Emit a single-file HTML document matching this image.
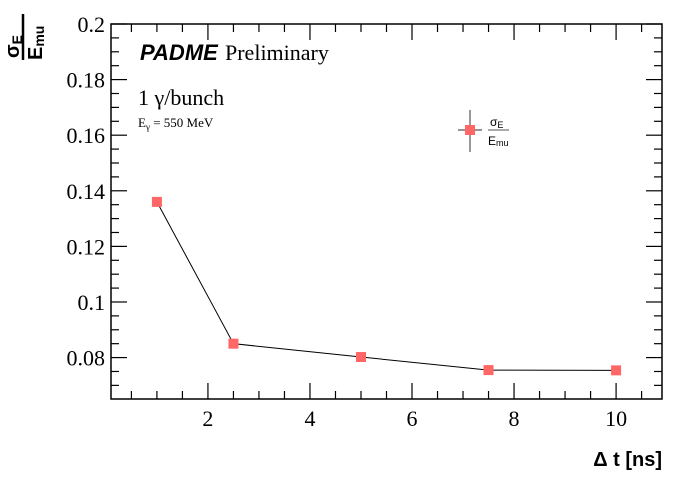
<!DOCTYPE html>
<html><head><meta charset="utf-8"><style>
body{margin:0;background:#fff}
svg text{font-family:"Liberation Serif",serif}
</style></head><body>
<svg id="c" width="698" height="476" xmlns="http://www.w3.org/2000/svg">
<rect width="698" height="476" fill="#fff"/>
<g id="axes"></g>
<g id="series"></g>
<text x="140" y="60" font-weight="bold" font-style="italic" font-size="22" style="font-family:'Liberation Sans',sans-serif">PADME</text>
<text x="225" y="60" font-size="22">Preliminary</text>
<text x="138" y="105" font-size="22">1 γ/bunch</text>
<text x="138" y="127" font-size="13">E<tspan font-size="9" dy="3">γ</tspan><tspan dy="-3"> = 550 MeV</tspan></text>
<g>
<line x1="470" y1="110" x2="470" y2="152" stroke="#555" stroke-width="1.2"/>
<line x1="458" y1="130" x2="482" y2="130" stroke="#555" stroke-width="1.2"/>
<rect x="465" y="125" width="10" height="10" fill="#f66"/>
<text x="490" y="126" font-size="12" style="font-family:'Liberation Sans',sans-serif">σ<tspan font-size="9" dy="2">E</tspan></text>
<line x1="488" y1="130" x2="509" y2="130" stroke="#555" stroke-width="1"/>
<text x="488" y="145" font-size="12" style="font-family:'Liberation Sans',sans-serif">E<tspan font-size="9" dy="1">mu</tspan></text>
</g>
<g transform="translate(23,60) rotate(-90)">
<text x="2" y="-4" font-size="20" font-weight="bold" style="font-family:'Liberation Sans',sans-serif">σ<tspan font-size="14" dy="3">E</tspan></text>
<line x1="0" y1="0" x2="46" y2="0" stroke="#000" stroke-width="2.5"/>
<text x="0" y="19" font-size="20" font-weight="bold" style="font-family:'Liberation Sans',sans-serif">E<tspan font-size="14" dy="2">mu</tspan></text>
</g>
<text x="662" y="466" text-anchor="end" font-size="20" font-weight="bold" style="font-family:'Liberation Sans',sans-serif">Δ t [ns]</text>
</svg>
<script>
const xValues=[1,2.5,5,7.5,10];
const yValues=[0.136,0.085,0.0802,0.0755,0.0754];
const xTicks=[2,4,6,8,10];
const yTicks=[0.08,0.1,0.12,0.14,0.16,0.18,0.2];
const yTickLabels=["0.08","0.1","0.12","0.14","0.16","0.18","0.2"];
const L=111,R=662,T=24,B=399,xmin=0.1,xmax=10.9,ymin=0.0651,ymax=0.2;
const sx=v=>L+(v-xmin)/(xmax-xmin)*(R-L);
const sy=v=>B-(v-ymin)/(ymax-ymin)*(B-T);
const NS="http://www.w3.org/2000/svg";
function mk(t,a,p){const e=document.createElementNS(NS,t);for(const k in a)e.setAttribute(k,a[k]);p.appendChild(e);return e;}
const ax=document.getElementById('axes');
const fr=mk('rect',{x:L,y:T,width:R-L,height:B-T,fill:'none',stroke:'#000','stroke-width':1.5},ax);


for(let v=0.5;v<=10.9;v+=0.5){const x=sx(v);const maj=Math.abs(v/2-Math.round(v/2))<1e-6;const len=maj?16:8;
mk('line',{x1:x,y1:B,x2:x,y2:B-len,stroke:'#000','stroke-width':1.2},ax);
mk('line',{x1:x,y1:T,x2:x,y2:T+len,stroke:'#000','stroke-width':1.2},ax);}
xTicks.forEach(v=>{const t=mk('text',{x:sx(v),y:B+27,'text-anchor':'middle','font-size':22},ax);t.textContent=v;

});
for(let v=0.07;v<=0.2001;v+=0.005){const y=sy(v);const maj=Math.abs(v/0.02-Math.round(v/0.02))<1e-6;const len=maj?16:8;
mk('line',{x1:L,y1:y,x2:L+len,y2:y,stroke:'#000','stroke-width':1.2},ax);
mk('line',{x1:R,y1:y,x2:R-len,y2:y,stroke:'#000','stroke-width':1.2},ax);}
yTicks.forEach((v,i)=>{const t=mk('text',{x:L-6,y:sy(v)+8,'text-anchor':'end','font-size':22},ax);t.textContent=yTickLabels[i];

});
const sg=document.getElementById('series');
const pl=mk('polyline',{points:xValues.map((x,i)=>sx(x)+','+sy(yValues[i])).join(' '),fill:'none',stroke:'#000','stroke-width':1},sg);


xValues.forEach((x,i)=>{const r=mk('rect',{x:sx(x)-5,y:sy(yValues[i])-5,width:10,height:10,fill:'#f66'},sg);

});
</script>
</body></html>
